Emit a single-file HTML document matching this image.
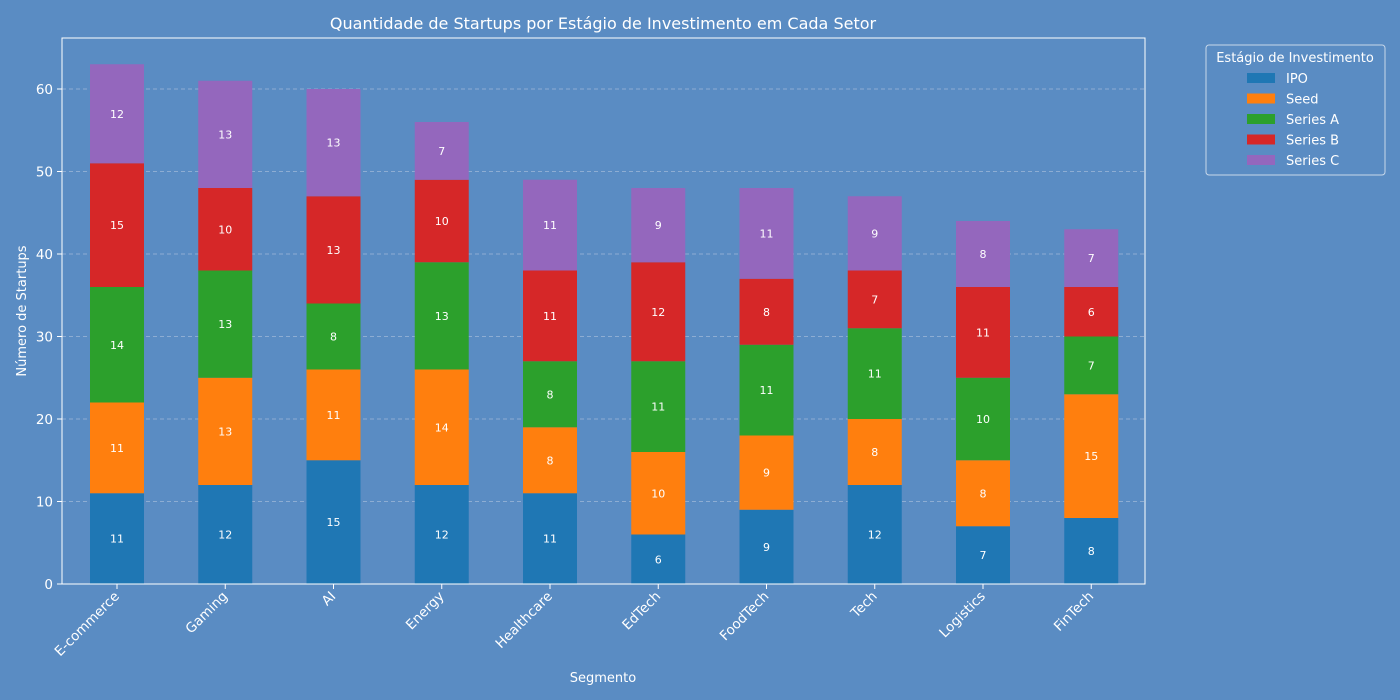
<!DOCTYPE html>
<html><head><meta charset="utf-8"><style>
body{margin:0;background:#5a8cc3;}
svg{display:block;font-family:"DejaVu Sans","Liberation Sans",sans-serif;}
</style></head><body>
<svg id="chart" width="1400" height="700">
<rect width="1400" height="700" fill="#5a8cc3"/>
<text x="603" y="29" fill="#fff" font-size="16" text-anchor="middle">Quantidade de Startups por Estágio de Investimento em Cada Setor</text>
<g id="grid"></g><g id="bars"></g><g id="axes"></g>
<rect x="62" y="38" width="1083" height="546" fill="none" stroke="#fff" stroke-width="1"/>
<text x="603" y="682" fill="#fff" font-size="13" text-anchor="middle">Segmento</text>
<text x="26" y="311" fill="#fff" font-size="13" text-anchor="middle" transform="rotate(-90 26 311)">Número de Startups</text>
<g id="legend">
<rect x="1206" y="45" width="179" height="130" rx="3" fill="#5a8cc3" stroke="#c8d8ea"/>
<text x="1295" y="62" fill="#fff" font-size="13" text-anchor="middle">Estágio de Investimento</text>
</g>
</svg>
<script>
const categories=["E-commerce","Gaming","AI","Energy","Healthcare","EdTech","FoodTech","Tech","Logistics","FinTech"];
const seriesNames=["IPO","Seed","Series A","Series B","Series C"];
const ipo=[11,12,15,12,11,6,9,12,7,8];
const seed=[11,13,11,14,8,10,9,8,8,15];
const seriesA=[14,13,8,13,8,11,11,11,10,7];
const seriesB=[15,10,13,10,11,12,8,7,11,6];
const seriesC=[12,13,13,7,11,9,11,9,8,7];
const yTicks=[0,10,20,30,40,50,60];
const colors=["#1f77b4","#ff7f0e","#2ca02c","#d62728","#9467bd"];
const series=[ipo,seed,seriesA,seriesB,seriesC];
const NS="http://www.w3.org/2000/svg";
const y=v=>584-v*8.25;
const x=i=>117+i*108.25;
const bw=54;
function mk(tag,attrs,parent,text){const e=document.createElementNS(NS,tag);for(const k in attrs)e.setAttribute(k,attrs[k]);if(text!==undefined)e.textContent=text;parent.appendChild(e);return e;}
const grid=document.getElementById('grid'),bars=document.getElementById('bars'),axes=document.getElementById('axes'),legend=document.getElementById('legend');
yTicks.forEach(t=>{
 if(t>0){const g=mk('line',{x1:62,x2:1145,y1:y(t),y2:y(t),stroke:'#b0c4de','stroke-dasharray':'4,3','stroke-width':0.8,opacity:0.8},grid);
 
 }
 mk('line',{x1:57,x2:62,y1:y(t),y2:y(t),stroke:'#fff'},axes);
 const l=mk('text',{x:53,y:y(t)+5,fill:'#fff','font-size':13.5,'text-anchor':'end'},axes,t);
 
 
});
categories.forEach((c,i)=>{
 let base=0;
 series.forEach((s,k)=>{
  const v=s[i];
  const r=mk('rect',{x:x(i)-bw/2,y:y(base+v),width:bw,height:v*8.25,fill:colors[k]},bars);
  
  
  const t=mk('text',{x:x(i),y:y(base+v/2)+4,fill:'#fff','font-size':11,'text-anchor':'middle'},bars,v);
  
  
  base+=v;
 });
 mk('line',{x1:x(i),x2:x(i),y1:584,y2:589,stroke:'#fff'},axes);
 const tx=x(i)+3,ty=597;
 const l=mk('text',{x:tx,y:ty,fill:'#fff','font-size':13.5,'text-anchor':'end',transform:`rotate(-45 ${tx} ${ty})`},axes,c);
 
 
});
seriesNames.forEach((n,k)=>{
 const yy=78+k*20.5;
 const r=mk('rect',{x:1247,y:yy-5,width:28,height:10,fill:colors[k]},legend);
 
 
 const t=mk('text',{x:1286,y:yy+5,fill:'#fff','font-size':13},legend,n);
 
 
});
</script>
</body></html>
